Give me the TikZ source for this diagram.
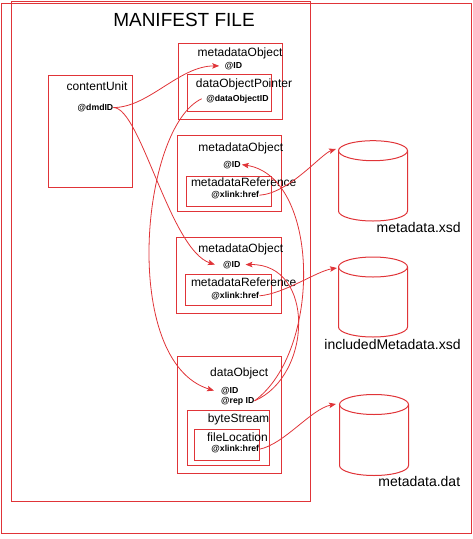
\documentclass[tikz,border=0pt]{standalone}
\usepackage{fontspec}
\setmainfont{Liberation Sans}
\usetikzlibrary{arrows.meta}
\definecolor{linkred}{RGB}{224,52,56}

% storage drum: centre x, x radius, y of top ellipse, y of bottom ellipse
\newcommand\storedrum[4]{%
  \draw[box] (#1,#3) ellipse [x radius=#2pt, y radius=10pt];
  \draw[box] (#1-#2,#3) -- (#1-#2,#4)
    arc[start angle=180, end angle=360, x radius=#2pt, y radius=10pt] -- (#1+#2,#3);
}

\begin{document}
\begin{tikzpicture}[x=1pt, y=-1pt,
  box/.style={draw=linkred, line width=1pt},
  link/.style={draw=linkred, line width=0.8pt,
    -{Stealth[length=7pt, width=5.5pt, inset=1.5pt]}},
  lbl/.style={inner sep=0pt, anchor=base, font=\fontsize{12}{14}\selectfont},
  attr/.style={inner sep=0pt, anchor=base, font=\fontsize{8.7}{10}\selectfont\bfseries},
  heading/.style={inner sep=0pt, anchor=base, font=\fontsize{19}{22}\selectfont},
  store/.style={inner sep=0pt, anchor=base, font=\fontsize{14}{16}\selectfont}]

\useasboundingbox (0,0) rectangle (472,539);

% frames
\draw[box] (1.5,3.5) rectangle (471,533);
\draw[box] (11,1.5) rectangle (310,501);

% boxes of the manifest
\draw[box] (48.5,75.5) rectangle (132.5,187);
\draw[box] (178.5,43.5) rectangle (282,119);
\draw[box] (187.5,74.5) rectangle (271.5,111);
\draw[box] (177.5,135.5) rectangle (281.5,211);
\draw[box] (186.5,176) rectangle (271.5,206.5);
\draw[box] (176.5,237) rectangle (281.5,313);
\draw[box] (185.5,274.5) rectangle (271.5,305.5);
\draw[box] (177.5,356.5) rectangle (281.5,473.5);
\draw[box] (187.5,410.5) rectangle (269.5,465.5);
\draw[box] (194.5,429) rectangle (259.5,460);

% external files
\storedrum{373}{34.5}{150.7}{211}
\storedrum{373}{34.5}{267}{327}
\storedrum{374}{34.5}{404.5}{465.5}
\coordinate (db1) at (336,149);
\coordinate (db2) at (337,268);
\coordinate (db3) at (336,404);

% texts
\node[heading] (mf) at (184,26) {MANIFEST FILE};
\node[lbl] (cu) at (97,90.7) {contentUnit};
\node[attr] (dmd) at (95.5,110) {@dmdID};
\node[lbl] (mo1) at (240,56) {metadataObject};
\node[attr] (id1) at (233.5,68.3) {@ID};
\node[lbl] (dopt) at (244,87.7) {dataObjectPointer};
\node[attr] (doid) at (237.5,101) {@dataObjectID};
\node[lbl] (mo2) at (240.8,151) {metadataObject};
\node[attr] (id2) at (232,167) {@ID};
\node[lbl] (mr1) at (243.7,186.7) {metadataReference};
\node[attr] (href1) at (235.3,197.7) {@xlink:href};
\node[lbl] (mo3) at (240.8,252) {metadataObject};
\node[attr] (id3) at (231.7,267) {@ID};
\node[lbl] (mr2) at (243.7,286.7) {metadataReference};
\node[attr] (href2) at (235.3,298.3) {@xlink:href};
\node[lbl] (dobj) at (239.2,376.7) {dataObject};
\node[attr, anchor=base west] (id4) at (221,393) {@ID};
\node[attr, anchor=base west] (rep) at (221,403) {@rep ID};
\node[lbl] (bs) at (238.5,422.3) {byteStream};
\node[lbl] (fl) at (237.5,441.7) {fileLocation};
\node[attr] (href3) at (235.3,451.7) {@xlink:href};
\node[store] (s1) at (418.7,232.7) {metadata.xsd};
\node[store] (s2) at (392.5,349.3) {includedMetadata.xsd};
\node[store] (s3) at (419.3,486) {metadata.dat};

% references
\draw[link] (dmd.east) .. controls +(35,0) and +(-40,0) .. ([xshift=-5.5pt]id1.west);
\draw[link] (dmd.east) .. controls +(27,0) and +(-45,-15) .. ([xshift=-8pt]id3.west);
\draw[link] ([xshift=-4.5pt]doid.west) .. controls +(-61,28) and +(-94,-29) .. ([xshift=-7pt]id4.west);
\draw[link] (href1.east) .. controls +(30,-2) and +(-15,5) .. (db1);
\draw[link] (href2.east) .. controls +(25,-2) and +(-20,3) .. (db2);
\draw[link] (href3.east) .. controls +(25,-5) and +(-25,5) .. (db3);
\draw[link] (rep.east) .. controls +(68,-50) and +(78,12) .. ([xshift=1pt]id2.east);
\draw[link] (rep.east) .. controls +(58,-25) and +(70,-1) .. ([xshift=5pt]id3.east);
\end{tikzpicture}
\end{document}
